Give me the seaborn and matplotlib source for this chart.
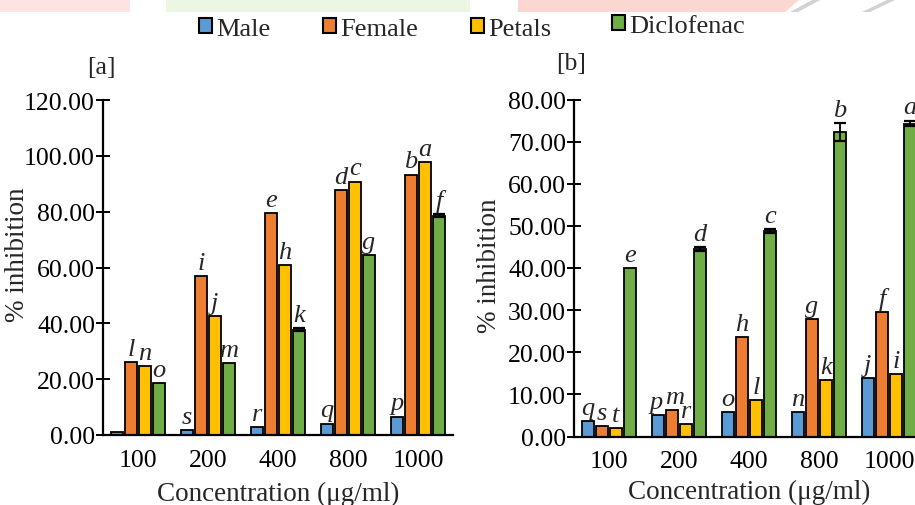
import matplotlib
matplotlib.use("Agg")
import matplotlib.pyplot as plt
from matplotlib.patches import Patch, Rectangle, Polygon
from matplotlib.container import BarContainer
import numpy as np
import pandas as pd
import seaborn as sns

# ---- data -------------------------------------------------------------
concentrations = ["100", "200", "400", "800", "1000"]
series = ["Male", "Female", "Petals", "Diclofenac"]
colors = ["#5B9BD5", "#ED7D31", "#FFC000", "#70AD47"]

# panel [a]
a_male = [1.2, 1.9, 2.8, 4.1, 6.6]
a_female = [26.2, 57.1, 79.6, 87.8, 93.3]
a_petals = [24.6, 42.5, 61.0, 90.8, 97.7]
a_diclo = [18.6, 25.7, 37.7, 64.3, 78.6]
a_diclo_err = [0.0, 0.0, 0.5, 0.0, 0.6]
a_letters = [["", "l", "n", "o"],
             ["s", "i", "j", "m"],
             ["r", "e", "h", "k"],
             ["q", "d", "c", "g"],
             ["p", "b", "a", "f"]]

# panel [b]
b_male = [3.7, 5.0, 5.8, 5.9, 13.9]
b_female = [2.5, 6.2, 23.6, 27.8, 29.5]
b_petals = [2.1, 2.9, 8.6, 13.3, 14.9]
b_diclo = [40.0, 44.5, 48.7, 72.3, 74.3]
b_diclo_err = [0.0, 0.5, 0.5, 2.1, 0.7]
b_letters = [["q", "s", "t", "e"],
             ["p", "m", "r", "d"],
             ["o", "h", "l", "c"],
             ["n", "g", "k", "b"],
             ["j", "f", "i", "a"]]

y_ticks_a = [0, 20, 40, 60, 80, 100, 120]
y_ticks_b = [0, 10, 20, 30, 40, 50, 60, 70, 80]


def long_frame(male, female, petals, diclo):
    rows = []
    for name, vals in zip(series, [male, female, petals, diclo]):
        for c, v in zip(concentrations, vals):
            rows.append({"conc": c, "series": name, "value": v})
    return pd.DataFrame(rows)


df_a = long_frame(a_male, a_female, a_petals, a_diclo)
df_b = long_frame(b_male, b_female, b_petals, b_diclo)

# ---- style ------------------------------------------------------------
sns.set_style("white")
plt.rcParams["font.family"] = ["Liberation Serif", "DejaVu Serif"]

W, H = 915, 506
fig = plt.figure(figsize=(W / 100, H / 100), dpi=100)

# faint page decorations along the top edge
fig.patches.append(Rectangle((0, 1 - 13 / H), 130 / W, 13 / H, transform=fig.transFigure,
                             facecolor="#fde3e1", edgecolor="none", zorder=0))
fig.patches.append(Rectangle((166 / W, 1 - 13 / H), 304 / W, 13 / H, transform=fig.transFigure,
                             facecolor="#ebf7e2", edgecolor="none", zorder=0))
fig.patches.append(Polygon([(518 / W, 1 - 13 / H), (785 / W, 1 - 13 / H), (800 / W, 1.0),
                            (518 / W, 1.0)], closed=True, transform=fig.transFigure,
                           facecolor="#fcd6d0", edgecolor="none", zorder=0))
for x0, x1 in [(790, 822), (862, 897)]:
    fig.patches.append(Polygon([(x0 / W, 1 - 13 / H), (x0 / W + 8 / W, 1 - 13 / H),
                                (x1 / W, 1.0), (x1 / W - 8 / W, 1.0)], closed=True,
                               transform=fig.transFigure, facecolor="#d2d2d2",
                               edgecolor="none", zorder=0))

TICK_FS = 18.5
LABEL_FS = 19.5
LETTER_FS = 19
# small sideways nudges (points) for letters that would otherwise collide
LETTER_NUDGE = {"p": -1.5, "m": 1.5}


def draw_panel(ax, df, errs, letters, ymax, yticks, ylabel_xy, xlabelpad, nudge):
    sns.barplot(data=df, x="conc", y="value", hue="series", order=concentrations,
                hue_order=series, palette=colors, saturation=1, edgecolor="black",
                linewidth=1.3, width=0.8, gap=0.12, errorbar=None, legend=False,
                ax=ax, zorder=2)
    ax.set_xlim(-0.5, 4.5)
    ax.set_ylim(0, ymax)
    ax.set_yticks(yticks)
    ax.set_yticklabels([f"{t:.2f}" for t in yticks])
    for side in ["top", "right"]:
        ax.spines[side].set_visible(False)
    for side in ["left", "bottom"]:
        ax.spines[side].set_color("black")
        ax.spines[side].set_linewidth(1.6)
    ax.tick_params(axis="y", direction="inout", length=9.5, width=1.4,
                   labelsize=TICK_FS, pad=1, colors="black", left=True)
    ax.tick_params(axis="x", length=0, labelsize=TICK_FS, pad=10, colors="black")
    ax.set_xlabel("Concentration (μg/ml)", fontsize=LABEL_FS, labelpad=xlabelpad)
    ax.set_ylabel("% inhibition", fontsize=LABEL_FS)
    ax.yaxis.set_label_coords(*ylabel_xy)
    ax.set_facecolor("none")

    bar_groups = [c for c in ax.containers if isinstance(c, BarContainer)]
    for s_idx, cont in enumerate(bar_groups):
        for c_idx, patch in enumerate(cont.patches):
            xc = patch.get_x() + patch.get_width() / 2
            h = patch.get_height()
            top = h
            if s_idx == 3 and errs[c_idx] > 0:
                ax.errorbar(xc, h, yerr=errs[c_idx], fmt="none", ecolor="black",
                            elinewidth=1.3, capsize=4.5, capthick=1.6, zorder=3)
                top = h + errs[c_idx]
            lab = letters[c_idx][s_idx]
            if lab:
                dx = nudge.get(lab, 0) if c_idx == 1 else 0
                ax.annotate(lab, (xc, top), xytext=(dx, 1.5), textcoords="offset points",
                            ha="center", va="bottom", fontsize=LETTER_FS, style="italic")


ax_a = fig.add_axes([103 / W, (H - 436) / H, 350 / W, 335 / H])
draw_panel(ax_a, df_a, a_diclo_err, a_letters, 120, y_ticks_a, (-0.21, 0.54), 7, {})

ax_b = fig.add_axes([574 / W, (H - 437.5) / H, 350 / W, 337 / H])
draw_panel(ax_b, df_b, b_diclo_err, b_letters, 80, y_ticks_b, (-0.205, 0.51), 5,
           LETTER_NUDGE)

fig.text(101 / W, 1 - 68 / H, "[a]", ha="center", va="center", fontsize=18.5)
fig.text(571 / W, 1 - 64 / H, "[b]", ha="center", va="center", fontsize=18.5)

# legend: three entries in one row, the last entry sits slightly higher
handles = [Patch(facecolor=c, edgecolor="black", linewidth=1.5) for c in colors]
leg_kw = dict(frameon=False, fontsize=19, handlelength=0.5, handleheight=0.5,
              handletextpad=0.15, borderpad=0, borderaxespad=0, loc="center left")
leg1 = fig.legend(handles[:3], series[:3], ncol=3, columnspacing=2.0,
                  bbox_to_anchor=(199 / W, 1 - 30 / H), **leg_kw)
leg2 = fig.legend(handles[3:], series[3:], ncol=1,
                  bbox_to_anchor=(612 / W, 1 - 27 / H), **leg_kw)

fig.savefig("out.png", dpi=100)
